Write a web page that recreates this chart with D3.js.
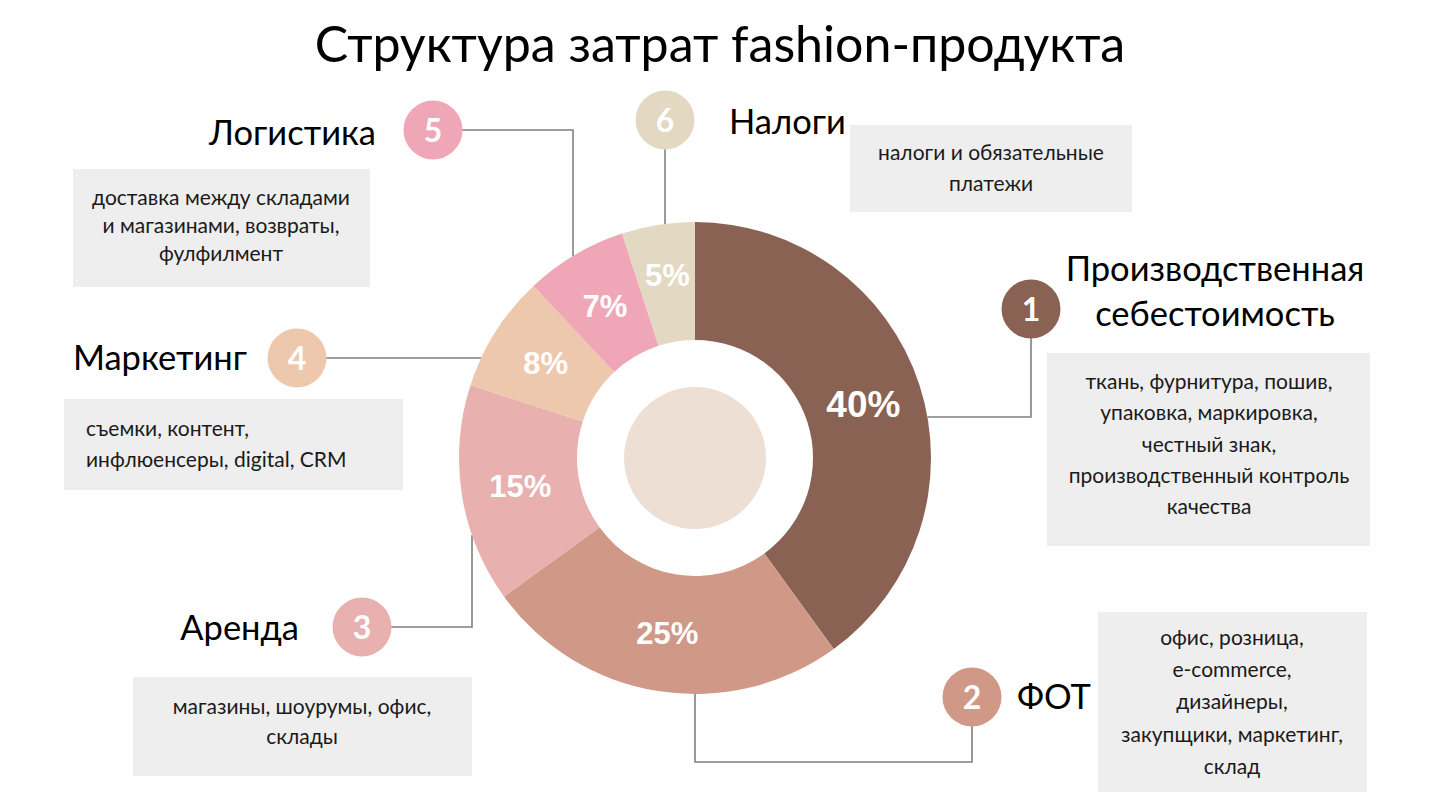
<!DOCTYPE html>
<html>
<head>
<meta charset="utf-8">
<script src="https://cdn.jsdelivr.net/npm/d3@7"></script>
<style>
  html, body { margin: 0; padding: 0; background: #fff; }
  svg { display: block; }
</style>
</head>
<body>
<svg id="chart" width="1440" height="810"></svg>
<script>
(function () {
  'use strict';

  var title = 'Структура затрат fashion-продукта';
  var categories = ['Производственная себестоимость', 'ФОТ', 'Аренда', 'Маркетинг', 'Логистика', 'Налоги'];
  var shares = [40, 25, 15, 8, 7, 5];
  var numbers = ['1', '2', '3', '4', '5', '6'];
  var colors = ['#8a6254', '#cf9887', '#e8b0af', '#eec8ad', '#efa7b7', '#e3d8c2'];
  var descriptions = [
    ['ткань, фурнитура, пошив,', 'упаковка, маркировка,', 'честный знак,', 'производственный контроль', 'качества'],
    ['офис, розница,', 'e-commerce,', 'дизайнеры,', 'закупщики, маркетинг,', 'склад'],
    ['магазины, шоурумы, офис,', 'склады'],
    ['съемки, контент,', 'инфлюенсеры, digital, CRM'],
    ['доставка между складами', 'и магазинами, возвраты,', 'фулфилмент'],
    ['налоги и обязательные', 'платежи']
  ];

  var svg = d3.select('#chart');
  var cx = 695, cy = 458;
  var outerR = 236, innerR = 118, coreR = 71;
  var lineColor = '#808080';

  // helpers: where a straight leader meets the outer edge of the ring
  function edgeX (y, sign) { return cx + sign * Math.sqrt(outerR * outerR - (y - cy) * (y - cy)); }
  function edgeY (x, sign) { return cy + sign * Math.sqrt(outerR * outerR - (x - cx) * (x - cx)); }

  // layout of the callouts, one per category
  var callouts = [
    { c: [1031, 309], name: { x: 1215, y: [281, 326], anchor: 'middle', lines: ['Производственная', 'себестоимость'] },
      box: [1047, 353, 323, 193], text: { x: 1209, y: 389, lh: 31.3, anchor: 'middle' },
      route: function () { return [[1031, 338], [1031, 417], [edgeX(417, 1), 417]]; } },
    { c: [972, 697], name: { x: 1017, y: [709], anchor: 'start' },
      box: [1098, 612, 269, 180], text: { x: 1232, y: 645, lh: 32.2, anchor: 'middle' },
      route: function () { return [[972, 726], [972, 762], [695, 762], [695, edgeY(695, 1)]]; } },
    { c: [362, 627], name: { x: 299, y: [640], anchor: 'end' },
      box: [133, 677, 339, 99], text: { x: 302, y: 714, lh: 30, anchor: 'middle' },
      route: function () { return [[391, 627], [472, 627], [472, edgeY(472, 1)]]; } },
    { c: [297, 358], name: { x: 247, y: [370], anchor: 'end' },
      box: [64, 399, 339, 91], text: { x: 86, y: 436, lh: 31, anchor: 'start' },
      route: function () { return [[326, 358], [edgeX(358, -1), 358]]; } },
    { c: [433, 130], name: { x: 376, y: [145], anchor: 'end' },
      box: [73, 169, 297, 118], text: { x: 221, y: 205, lh: 28, anchor: 'middle' },
      route: function () { return [[462, 130], [573, 130], [573, edgeY(573, -1)]]; } },
    { c: [665, 120], name: { x: 729, y: [134], anchor: 'start' },
      box: [850, 125, 282, 87], text: { x: 991, y: 160, lh: 31, anchor: 'middle' },
      route: function () { return [[665, 149], [665, edgeY(665, -1)]]; } }
  ];

  // title, stretched to the width it has on the slide
  var t = svg.append('text')
    .attr('x', 720)
    .attr('y', 62)
    .attr('text-anchor', 'middle')
    .style('font-family', 'Lato, "Noto Sans", sans-serif')
    .style('font-size', '46px')
    .attr('fill', '#000')
    .text(title);
  var tw = t.node().getComputedTextLength();
  t.style('font-size', (46 * 810 / tw).toFixed(1) + 'px');

  // leader lines
  var line = d3.line();
  svg.append('g').selectAll('path')
    .data(callouts)
    .enter()
    .append('path')
    .attr('d', function (d) { return line(d.route()); })
    .attr('fill', 'none')
    .attr('stroke', lineColor)
    .attr('stroke-width', 1.6);

  // donut
  var pie = d3.pie().sort(null).value(function (d) { return d; });
  var arcs = pie(shares);
  var arc = d3.arc().innerRadius(innerR).outerRadius(outerR);
  var biggest = d3.max(shares);

  var g = svg.append('g').attr('transform', 'translate(' + cx + ',' + cy + ')');
  g.selectAll('.slice')
    .data(arcs)
    .enter()
    .append('path')
    .attr('class', 'slice')
    .attr('d', arc)
    .attr('fill', function (d, i) { return colors[i]; });

  g.append('circle').attr('r', coreR).attr('fill', '#eedfd4');

  g.selectAll('.pct')
    .data(arcs)
    .enter()
    .append('text')
    .attr('class', 'pct')
    .attr('transform', function (d) {
      var p = arc.centroid(d);
      // the smallest label sits a little higher on the slide
      if (d.data === d3.min(shares)) p[1] -= 8;
      return 'translate(' + p + ')';
    })
    .attr('dy', '0.36em')
    .attr('text-anchor', 'middle')
    .style('font-family', '"Liberation Sans", Arial, sans-serif')
    .style('font-weight', 'bold')
    .style('font-size', function (d) { return d.data === biggest ? '37px' : '31px'; })
    .attr('fill', '#fff')
    .text(function (d) { return d.data + '%'; });

  // numbered badges
  var badges = svg.append('g').selectAll('g')
    .data(callouts)
    .enter()
    .append('g')
    .attr('transform', function (d) { return 'translate(' + d.c + ')'; });
  badges.append('circle')
    .attr('r', 29.5)
    .attr('fill', function (d, i) { return colors[i]; });
  badges.append('text')
    .attr('dy', '0.36em')
    .attr('text-anchor', 'middle')
    .style('font-family', 'Lato, sans-serif')
    .style('font-weight', 'bold')
    .style('font-size', '32px')
    .attr('fill', '#fff')
    .text(function (d, i) { return numbers[i]; });

  // category names
  callouts.forEach(function (d, i) {
    var lines = d.name.lines || [categories[i]];
    lines.forEach(function (s, k) {
      svg.append('text')
        .attr('x', d.name.x)
        .attr('y', d.name.y[k])
        .attr('text-anchor', d.name.anchor)
        .style('font-family', 'Lato, sans-serif')
        .style('font-size', '34.5px')
        .attr('fill', '#000')
        .text(s);
    });
  });

  // grey description boxes
  callouts.forEach(function (d, i) {
    svg.append('rect')
      .attr('x', d.box[0])
      .attr('y', d.box[1])
      .attr('width', d.box[2])
      .attr('height', d.box[3])
      .attr('fill', '#eeeeee');
    descriptions[i].forEach(function (s, k) {
      svg.append('text')
        .attr('x', d.text.x)
        .attr('y', d.text.y + k * d.text.lh)
        .attr('text-anchor', d.text.anchor)
        .style('font-family', 'Lato, sans-serif')
        .style('font-size', '21px')
        .attr('fill', '#1a1a1a')
        .text(s);
    });
  });
}());
</script>
</body>
</html>
